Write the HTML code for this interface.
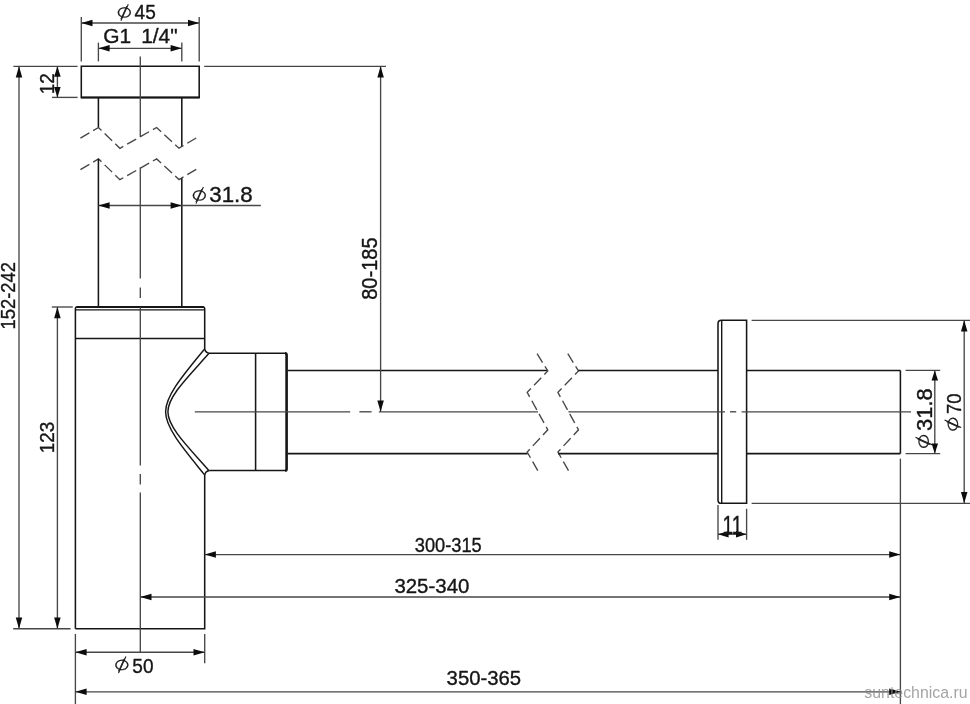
<!DOCTYPE html>
<html lang="ru"><head><meta charset="utf-8"><title>Чертёж сифона</title>
<style>
html,body{margin:0;padding:0;background:#fff;}
body{width:970px;height:704px;overflow:hidden;}
svg{display:block;}
svg line,svg path{stroke:#161616;}
svg line.t,svg path.t{stroke:#474747;}
svg text{font-family:"Liberation Sans","DejaVu Sans",sans-serif;fill:#161616;}
svg text.dia{font-family:"DejaVu Sans","Liberation Sans",sans-serif;fill:#161616;}
svg text{stroke:#161616;stroke-width:.35px;}
svg text.wm{fill:#8a8a8a;fill-opacity:.78;stroke:none;}
svg{filter:grayscale(1);}
</style></head><body>
<svg width="970" height="704" viewBox="0 0 970 704" role="img" aria-label="Чертёж сифона с размерами">
<rect x="0" y="0" width="970" height="704" fill="#fff"/>
<path d="M81.3,66.3 H199.2 V97.4 H81.3 Z" stroke-width="1.55" fill="none" />
<line x1="80.9" y1="97.4" x2="199.6" y2="97.4" stroke-width="2.0" />
<line x1="98.4" y1="97.4" x2="98.4" y2="127.6" stroke-width="1.55" />
<line x1="181.8" y1="97.4" x2="181.8" y2="147.0" stroke-width="1.55" />
<path d="M80.4,138.2 L98.5,127.5 L119.9,148.3 L156.6,127.5 L179.0,148.2 L197.0,137.5" stroke-width="1.35" fill="none" stroke-dasharray="10.4 4.4" class="t"/>
<path d="M80.4,169.6 L98.5,158.9 L119.9,179.7 L156.6,158.9 L179.0,179.6 L197.0,168.9" stroke-width="1.35" fill="none" stroke-dasharray="10.4 4.4" class="t"/>
<line x1="98.4" y1="158.9" x2="98.4" y2="307.0" stroke-width="1.55" />
<line x1="181.8" y1="178.2" x2="181.8" y2="307.0" stroke-width="1.55" />
<path d="M75.4,628.7 V308.6 Q75.4,307.0 77.0,307.0 H203.1 Q204.7,307.0 204.7,308.6 V348.8 Q205.3,352.6 209.6,353.3 H285.2" stroke-width="1.55" fill="none" />
<line x1="75.4" y1="309.8" x2="204.7" y2="309.8" stroke-width="1.25" />
<line x1="76.4" y1="307.0" x2="203.7" y2="307.0" stroke-width="1.9" />
<line x1="75.4" y1="338.4" x2="204.7" y2="338.4" stroke-width="1.55" />
<path d="M209.8,470.5 Q205.1,471.1 204.7,475.4 V628.7 H75.4" stroke-width="1.55" fill="none" />
<path d="M209.8,470.5 H285.2" stroke-width="1.55" fill="none" />
<line x1="255.6" y1="353.3" x2="255.6" y2="470.5" stroke-width="1.55" />
<path d="M285.0,353.3 Q286.6,353.3 286.6,354.9 V468.9 Q286.6,470.5 285.0,470.5" stroke-width="2.6" fill="none" />
<path d="M204.4,349.2 C185,373 165.6,395 165.6,411.8 C165.6,428.6 185,450.6 204.4,474.6" stroke-width="1.45" fill="none" />
<path d="M208.8,353.6 C189,376 167.9,396 167.9,411.8 C167.9,427.6 189,447.8 208.8,470.4" stroke-width="1.45" fill="none" />
<line x1="287.6" y1="370.4" x2="547.6" y2="370.4" stroke-width="1.55" />
<line x1="287.6" y1="453.6" x2="527.6" y2="453.6" stroke-width="1.55" />
<path d="M537.1,353.7 L547.8,371.0 L527.2,392.4 L547.8,429.8 L527.2,452.0 L537.8,470.7" stroke-width="1.35" fill="none" stroke-dasharray="10.4 4.5" class="t"/>
<path d="M567.8,353.7 L578.5,371.0 L557.9,392.4 L578.5,429.8 L557.9,452.0 L568.5,470.7" stroke-width="1.35" fill="none" stroke-dasharray="10.4 4.5" class="t"/>
<line x1="578.3" y1="370.4" x2="900.4" y2="370.4" stroke-width="1.55" />
<line x1="558.2" y1="453.6" x2="900.4" y2="453.6" stroke-width="1.55" />
<line x1="900.4" y1="370.4" x2="900.4" y2="453.6" stroke-width="1.55" />
<path d="M721.4,320.3 H746.6 V503.3 H721.4 Q718.0,503.3 718.0,499.9 V323.7 Q718.0,320.3 721.4,320.3 Z" stroke-width="1.55" fill="#fff"/>
<line x1="721.7" y1="320.3" x2="721.7" y2="503.3" stroke-width="1.4" />
<line x1="140.3" y1="56.4" x2="140.3" y2="136.8" stroke-width="1.35"  class="t"/>
<line x1="140.3" y1="167.6" x2="140.3" y2="278.6" stroke-width="1.35"  class="t"/>
<line x1="140.3" y1="287.4" x2="140.3" y2="298.0" stroke-width="1.35"  class="t"/>
<line x1="140.3" y1="307.0" x2="140.3" y2="465.6" stroke-width="1.35"  class="t"/>
<line x1="140.3" y1="474.0" x2="140.3" y2="484.4" stroke-width="1.35"  class="t"/>
<line x1="140.3" y1="492.4" x2="140.3" y2="652.2" stroke-width="1.35"  class="t"/>
<line x1="194.8" y1="411.8" x2="350.2" y2="411.8" stroke-width="1.35"  class="t"/>
<line x1="359.4" y1="411.8" x2="371.6" y2="411.8" stroke-width="1.35"  class="t"/>
<line x1="378.8" y1="411.8" x2="538.0" y2="411.8" stroke-width="1.35"  class="t"/>
<line x1="568.4" y1="411.8" x2="725.0" y2="411.8" stroke-width="1.35"  class="t"/>
<line x1="730.0" y1="411.8" x2="736.2" y2="411.8" stroke-width="1.35"  class="t"/>
<line x1="741.6" y1="411.8" x2="911.0" y2="411.8" stroke-width="1.35"  class="t"/>
<line x1="81.3" y1="17.0" x2="81.3" y2="61.4" stroke-width="1.35"  class="t"/>
<line x1="199.2" y1="17.0" x2="199.2" y2="61.4" stroke-width="1.35"  class="t"/>
<line x1="81.3" y1="23.0" x2="199.2" y2="23.0" stroke-width="1.35"  class="t"/>
<polygon points="81.30,23.00 92.50,19.75 92.50,26.25" fill="#0c0c0c" stroke="none"/>
<polygon points="199.20,23.00 188.00,19.75 188.00,26.25" fill="#0c0c0c" stroke="none"/>
<line x1="98.4" y1="42.6" x2="98.4" y2="61.4" stroke-width="1.35"  class="t"/>
<line x1="181.8" y1="42.6" x2="181.8" y2="61.4" stroke-width="1.35"  class="t"/>
<line x1="98.4" y1="48.3" x2="181.8" y2="48.3" stroke-width="1.35"  class="t"/>
<polygon points="98.40,48.30 109.60,45.05 109.60,51.55" fill="#0c0c0c" stroke="none"/>
<polygon points="181.80,48.30 170.60,45.05 170.60,51.55" fill="#0c0c0c" stroke="none"/>
<line x1="13.4" y1="66.3" x2="77.6" y2="66.3" stroke-width="1.35"  class="t"/>
<line x1="52.0" y1="97.4" x2="77.6" y2="97.4" stroke-width="1.35"  class="t"/>
<line x1="57.4" y1="66.3" x2="57.4" y2="97.4" stroke-width="1.35"  class="t"/>
<polygon points="57.40,66.30 54.15,76.70 60.65,76.70" fill="#0c0c0c" stroke="none"/>
<polygon points="57.40,97.40 54.15,87.00 60.65,87.00" fill="#0c0c0c" stroke="none"/>
<line x1="19.0" y1="66.3" x2="19.0" y2="628.7" stroke-width="1.35"  class="t"/>
<polygon points="19.00,66.30 15.75,77.50 22.25,77.50" fill="#0c0c0c" stroke="none"/>
<polygon points="19.00,628.70 15.75,617.50 22.25,617.50" fill="#0c0c0c" stroke="none"/>
<line x1="13.2" y1="628.7" x2="70.6" y2="628.7" stroke-width="1.35"  class="t"/>
<line x1="51.8" y1="307.0" x2="72.8" y2="307.0" stroke-width="1.35"  class="t"/>
<line x1="57.4" y1="307.0" x2="57.4" y2="628.7" stroke-width="1.35"  class="t"/>
<polygon points="57.40,307.00 54.15,318.20 60.65,318.20" fill="#0c0c0c" stroke="none"/>
<polygon points="57.40,628.70 54.15,617.50 60.65,617.50" fill="#0c0c0c" stroke="none"/>
<line x1="98.4" y1="205.5" x2="260.8" y2="205.5" stroke-width="1.35"  class="t"/>
<polygon points="98.40,205.50 109.60,202.25 109.60,208.75" fill="#0c0c0c" stroke="none"/>
<polygon points="181.80,205.50 170.60,202.25 170.60,208.75" fill="#0c0c0c" stroke="none"/>
<line x1="204.2" y1="66.3" x2="386.0" y2="66.3" stroke-width="1.35"  class="t"/>
<line x1="380.6" y1="66.3" x2="380.6" y2="411.8" stroke-width="1.35"  class="t"/>
<polygon points="380.60,66.30 377.35,77.50 383.85,77.50" fill="#0c0c0c" stroke="none"/>
<polygon points="380.60,411.80 377.35,400.60 383.85,400.60" fill="#0c0c0c" stroke="none"/>
<line x1="75.4" y1="634.0" x2="75.4" y2="704" stroke-width="1.35"  class="t"/>
<line x1="204.7" y1="634.0" x2="204.7" y2="663.2" stroke-width="1.35"  class="t"/>
<line x1="75.4" y1="652.2" x2="204.7" y2="652.2" stroke-width="1.35"  class="t"/>
<polygon points="75.40,652.20 86.60,648.95 86.60,655.45" fill="#0c0c0c" stroke="none"/>
<polygon points="204.70,652.20 193.50,648.95 193.50,655.45" fill="#0c0c0c" stroke="none"/>
<line x1="900.4" y1="458.6" x2="900.4" y2="704" stroke-width="1.35"  class="t"/>
<line x1="204.7" y1="554.6" x2="900.4" y2="554.6" stroke-width="1.35"  class="t"/>
<polygon points="204.70,554.60 215.90,551.35 215.90,557.85" fill="#0c0c0c" stroke="none"/>
<polygon points="900.40,554.60 889.20,551.35 889.20,557.85" fill="#0c0c0c" stroke="none"/>
<line x1="140.3" y1="597.0" x2="900.4" y2="597.0" stroke-width="1.35"  class="t"/>
<polygon points="140.30,597.00 151.50,593.75 151.50,600.25" fill="#0c0c0c" stroke="none"/>
<polygon points="900.40,597.00 889.20,593.75 889.20,600.25" fill="#0c0c0c" stroke="none"/>
<line x1="75.4" y1="691.8" x2="900.4" y2="691.8" stroke-width="1.35"  class="t"/>
<polygon points="75.40,691.80 86.60,688.55 86.60,695.05" fill="#0c0c0c" stroke="none"/>
<polygon points="900.40,691.80 889.20,688.55 889.20,695.05" fill="#0c0c0c" stroke="none"/>
<line x1="718.0" y1="505.0" x2="718.0" y2="539.8" stroke-width="1.35"  class="t"/>
<line x1="746.6" y1="508.8" x2="746.6" y2="539.8" stroke-width="1.35"  class="t"/>
<line x1="718.0" y1="534.2" x2="746.6" y2="534.2" stroke-width="1.35"  class="t"/>
<polygon points="718.00,534.20 728.60,530.95 728.60,537.45" fill="#0c0c0c" stroke="none"/>
<polygon points="746.60,534.20 736.00,530.95 736.00,537.45" fill="#0c0c0c" stroke="none"/>
<line x1="905.6" y1="370.4" x2="940.2" y2="370.4" stroke-width="1.35"  class="t"/>
<line x1="905.6" y1="453.6" x2="940.2" y2="453.6" stroke-width="1.35"  class="t"/>
<line x1="934.8" y1="370.4" x2="934.8" y2="453.6" stroke-width="1.35"  class="t"/>
<polygon points="934.80,370.40 931.55,380.60 938.05,380.60" fill="#0c0c0c" stroke="none"/>
<polygon points="934.80,453.60 931.55,443.40 938.05,443.40" fill="#0c0c0c" stroke="none"/>
<line x1="751.6" y1="320.3" x2="970" y2="320.3" stroke-width="1.35"  class="t"/>
<line x1="751.6" y1="503.3" x2="970" y2="503.3" stroke-width="1.35"  class="t"/>
<line x1="964.2" y1="320.3" x2="964.2" y2="503.3" stroke-width="1.35"  class="t"/>
<polygon points="964.20,320.30 960.95,331.50 967.45,331.50" fill="#0c0c0c" stroke="none"/>
<polygon points="964.20,503.30 960.95,492.10 967.45,492.10" fill="#0c0c0c" stroke="none"/>
<text font-size="20" class="dia" transform="translate(124.30 12.50) scale(0.9031 0.7225) rotate(-19.2) translate(-8.711 7.002)">&#8709;</text>
<line x1="120.90" y1="20.80" x2="128.30" y2="4.20" stroke-width="1.05"/>
<text font-size="20" transform="translate(134.62 19.29) scale(0.9524 1.0429)">45</text>
<text font-size="20" transform="translate(103.25 43.09) scale(1.0462 1.0405)" word-spacing="4.0">G1 1/4&quot;</text>
<text font-size="20" class="dia" transform="translate(199.40 195.35) scale(0.9031 0.7225) rotate(-19.2) translate(-8.711 7.002)">&#8709;</text>
<line x1="196.00" y1="203.65" x2="203.40" y2="187.05" stroke-width="1.05"/>
<text font-size="20" transform="translate(209.31 202.19) scale(1.1156 1.0634)">31.8</text>
<text font-size="20" transform="translate(414.77 551.50) scale(0.9123 1.0070)">300-315</text>
<text font-size="20" transform="translate(394.38 593.30) scale(1.0223 0.9930)">325-340</text>
<text font-size="20" transform="translate(446.59 684.69) scale(1.0153 1.0563)">350-365</text>
<text font-size="20" class="dia" transform="translate(121.90 664.80) scale(0.9031 0.7225) rotate(-19.2) translate(-8.711 7.002)">&#8709;</text>
<line x1="118.50" y1="673.10" x2="125.90" y2="656.50" stroke-width="1.05"/>
<text font-size="20" transform="translate(132.34 672.59) scale(0.9515 1.0493)">50</text>
<text font-size="20" transform="translate(722.46 534.00) scale(0.9563 1.3043)">11</text>
<text font-size="20" transform="translate(53.60 94.22) rotate(-90) scale(0.9490 1.0357)">12</text>
<text font-size="20" transform="translate(15.39 329.47) rotate(-90) scale(0.9209 1.0563)">152-242</text>
<text font-size="20" transform="translate(53.59 453.21) rotate(-90) scale(0.9416 1.0423)">123</text>
<text font-size="20" transform="translate(377.47 299.80) rotate(-90) scale(1.0017 1.1338)">80-185</text>
<text font-size="20" class="dia" transform="translate(923.75 441.35) rotate(-90) scale(0.9031 0.7225) rotate(-19.2) translate(-8.711 7.002)">&#8709;</text>
<line x1="932.05" y1="444.75" x2="915.45" y2="437.35" stroke-width="1.05"/>
<text font-size="20" transform="translate(931.68 430.88) rotate(-90) scale(1.0941 1.0915)">31.8</text>
<text font-size="20" class="dia" transform="translate(952.85 424.05) rotate(-90) scale(0.9031 0.7225) rotate(-19.2) translate(-8.711 7.002)">&#8709;</text>
<line x1="961.15" y1="427.45" x2="944.55" y2="420.05" stroke-width="1.05"/>
<text font-size="20" transform="translate(960.79 413.92) rotate(-90) scale(0.9216 1.0493)">70</text>
<text font-size="20" transform="translate(864.32 698.34) scale(0.7949 0.7973)" class="wm">suntechnica.ru</text>
</svg></body></html>
